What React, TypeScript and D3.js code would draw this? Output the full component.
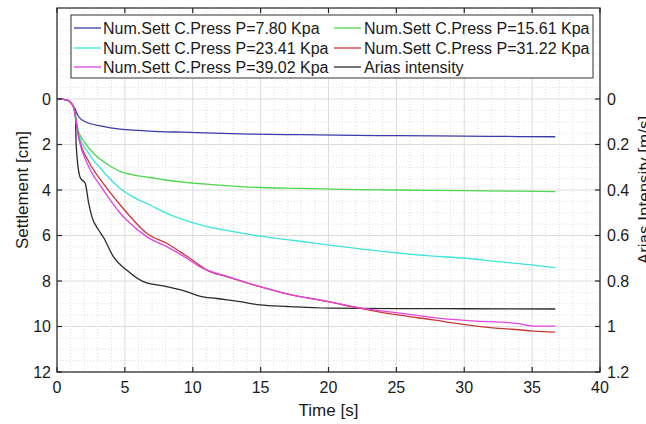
import React from "react";
import * as d3 from "d3";

const W = 646;
const H = 424;

const xTicks = [0, 5, 10, 15, 20, 25, 30, 35, 40];
const yTicks = [0, 2, 4, 6, 8, 10, 12];
const yRightTicks = [0, 0.2, 0.4, 0.6, 0.8, 1, 1.2];

const legendLabels = [
  "Num.Sett C.Press P=7.80 Kpa",
  "Num.Sett C.Press P=15.61 Kpa",
  "Num.Sett C.Press P=23.41 Kpa",
  "Num.Sett C.Press P=31.22 Kpa",
  "Num.Sett C.Press P=39.02 Kpa",
  "Arias intensity",
];
const colors = ["#3a3aaa", "#4cd64c", "#3fe3dc", "#c83838", "#e044e0", "#2a2a2a"];

// Settlement series [cm]
const t1 = [0, 0.5, 0.75, 0.96, 1.23, 1.6, 2.08, 3.3, 4.64, 6.0, 7.5, 9.3, 11.5, 14.2, 18, 22, 25.1, 30, 34, 36.7];
const s1 = [0, 0.02, 0.05, 0.12, 0.34, 0.78, 1.0, 1.19, 1.32, 1.38, 1.43, 1.46, 1.5, 1.54, 1.57, 1.6, 1.61, 1.63, 1.65, 1.66];

const t2 = [0, 0.5, 0.75, 0.96, 1.23, 1.47, 2.08, 2.82, 3.8, 4.66, 5.5, 6.85, 8, 9.3, 11, 14.2, 18, 22, 25.1, 30, 34, 36.7];
const s2 = [0, 0.02, 0.05, 0.12, 0.36, 1.22, 1.94, 2.46, 2.9, 3.19, 3.32, 3.45, 3.56, 3.65, 3.74, 3.87, 3.93, 3.98, 4.0, 4.03, 4.05, 4.07];

const t3 = [0, 0.5, 0.75, 0.96, 1.23, 1.6, 2.33, 3.31, 4.66, 5.6, 6.85, 8.3, 9.3, 11, 13, 14.95, 17.5, 20.1, 22.5, 25.1, 27.5, 30.1, 32.5, 35.1, 36.7];
const s3 = [0, 0.02, 0.05, 0.12, 0.36, 1.51, 2.39, 3.12, 3.93, 4.3, 4.66, 5.08, 5.3, 5.6, 5.83, 6.03, 6.22, 6.42, 6.6, 6.77, 6.9, 7.0, 7.15, 7.3, 7.41];

const t4 = [0, 0.5, 0.75, 0.96, 1.23, 1.6, 2.33, 3.31, 4.66, 5.62, 6.6, 8.08, 9.06, 10.3, 11.03, 12.5, 14.95, 16.7, 20.1, 22.3, 25.1, 27.7, 30.2, 31.9, 33.5, 35.1, 36.7];
const s4 = [0, 0.02, 0.05, 0.12, 0.38, 1.66, 2.75, 3.63, 4.66, 5.32, 5.9, 6.34, 6.71, 7.22, 7.52, 7.81, 8.25, 8.53, 8.92, 9.2, 9.49, 9.71, 9.93, 10.05, 10.12, 10.2, 10.25];

const t5 = [0, 0.5, 0.75, 0.96, 1.23, 1.6, 2.33, 3.31, 4.66, 5.13, 6.6, 8.08, 9.55, 10.5, 13, 14.95, 16.7, 20.1, 22.3, 25.1, 28.2, 30.6, 33.9, 35.1, 36.7];
const s5 = [0, 0.02, 0.05, 0.12, 0.38, 1.73, 2.97, 3.91, 5.02, 5.32, 6.05, 6.49, 7.0, 7.37, 7.88, 8.25, 8.53, 8.92, 9.18, 9.4, 9.64, 9.75, 9.86, 9.98, 9.98];

// Arias intensity [m/s] (right axis)
const tA = [0, 0.5, 0.75, 0.96, 1.23, 1.35, 1.4, 1.47, 1.72, 2.08, 2.33, 2.58, 3.07, 3.44, 4.15, 5.13, 6.36, 8.08, 9.55, 10.5, 11.76, 13.5, 14.95, 17, 20.1, 25, 30, 36.7];
const aA = [0, 0.002, 0.005, 0.012, 0.034, 0.048, 0.18, 0.25, 0.347, 0.37, 0.457, 0.519, 0.576, 0.61, 0.693, 0.752, 0.803, 0.825, 0.847, 0.866, 0.877, 0.891, 0.905, 0.912, 0.919, 0.921, 0.922, 0.923];

const FONT = "'Liberation Sans', Arial, Helvetica, sans-serif";

export default function App() {
  const left = 57, right = 600, top = 8, bottom = 372;
  const x = d3.scaleLinear().domain([0, 40]).range([left, right]);
  const y = d3.scaleLinear().domain([-4, 12]).range([top, bottom]);
  const yR = d3.scaleLinear().domain([-0.4, 1.2]).range([top, bottom]);

  const lineL = (ts: number[], vs: number[]) =>
    d3.line<number>().x((_, i) => x(ts[i])).y((v) => y(v)).curve(d3.curveMonotoneX)(vs) || "";
  const lineR = (ts: number[], vs: number[]) =>
    d3.line<number>().x((_, i) => x(ts[i])).y((v) => yR(v)).curve(d3.curveMonotoneX)(vs) || "";

  const series = [
    lineL(t1, s1),
    lineL(t2, s2),
    lineL(t3, s3),
    lineL(t4, s4),
    lineL(t5, s5),
  ];
  const arias = lineR(tA, aA);

  const xMinor = d3.range(0, 41, 1);
  const yMinor = d3.range(-4, 12.01, 0.5);

  const tickLen = 5;

  // legend layout
  const lg = { x0: 71, y0: 15, x1: 593, y1: 78 };
  const rows = [28, 48, 67];
  const cols = [{ lx: 74, tx: 103 }, { lx: 334, tx: 364 }];

  return (
    <svg width={W} height={H} style={{ position: "absolute", left: 0, top: 0, background: "#fff" }} fontFamily={FONT}>
      <rect x={0} y={0} width={W} height={H} fill="#fff" />
      {/* minor grid */}
      <g stroke="#d6d6d6" strokeWidth={0.8} strokeDasharray="1,2">
        {xMinor.filter((v) => v % 5 !== 0).map((v) => (
          <line key={"xm" + v} x1={x(v)} x2={x(v)} y1={top} y2={bottom} />
        ))}
        {yMinor.filter((v) => Math.abs(v % 2) > 1e-6 || v < 0).map((v) => (
          <line key={"ym" + v} x1={left} x2={right} y1={y(v)} y2={y(v)} />
        ))}
      </g>
      {/* major grid */}
      <g stroke="#dcdcdc" strokeWidth={1}>
        {xTicks.map((v) => (
          <line key={"xg" + v} x1={x(v)} x2={x(v)} y1={top} y2={bottom} />
        ))}
        {yTicks.map((v) => (
          <line key={"yg" + v} x1={left} x2={right} y1={y(v)} y2={y(v)} />
        ))}
      </g>

      {/* data */}
      <g fill="none" strokeWidth={1.3} strokeLinejoin="round">
        <path d={arias} stroke={colors[5]} />
        {series.map((d, i) => (
          <path key={i} d={d} stroke={colors[i]} />
        ))}
      </g>

      {/* box and ticks */}
      <g stroke="#262626" strokeWidth={1.2} fill="none">
        <rect x={left} y={top} width={right - left} height={bottom - top} />
        {xTicks.map((v) => (
          <g key={"xt" + v}>
            <line x1={x(v)} x2={x(v)} y1={bottom} y2={bottom - tickLen} />
            <line x1={x(v)} x2={x(v)} y1={top} y2={top + tickLen} />
          </g>
        ))}
        {yTicks.map((v) => (
          <line key={"yt" + v} x1={left} x2={left + tickLen} y1={y(v)} y2={y(v)} />
        ))}
        {yRightTicks.map((v) => (
          <line key={"yrt" + v} x1={right} x2={right - tickLen} y1={yR(v)} y2={yR(v)} />
        ))}
      </g>

      {/* tick labels */}
      <g fontSize={16} fill="#1a1a1a">
        {xTicks.map((v) => (
          <text key={"xl" + v} x={x(v)} y={bottom + 21} textAnchor="middle">{v}</text>
        ))}
        {yTicks.map((v) => (
          <text key={"yl" + v} x={left - 6} y={y(v) + 5.5} textAnchor="end">{v}</text>
        ))}
        {yRightTicks.map((v) => (
          <text key={"yrl" + v} x={right + 7} y={yR(v) + 5.5} textAnchor="start">{v}</text>
        ))}
      </g>

      {/* axis labels */}
      <g fontSize={17} fill="#1a1a1a">
        <text x={(left + right) / 2} y={416} textAnchor="middle">Time [s]</text>
        <text transform={`translate(28,${(top + bottom) / 2}) rotate(-90)`} textAnchor="middle">Settlement [cm]</text>
        <text transform={`translate(650,${(top + bottom) / 2}) rotate(-90)`} textAnchor="middle">Arias Intensity [m/s]</text>
      </g>

      {/* legend */}
      <g>
        <rect x={lg.x0} y={lg.y0} width={lg.x1 - lg.x0} height={lg.y1 - lg.y0} fill="#fff" stroke="#333" strokeWidth={1} />
        {legendLabels.map((lab, i) => {
          const r = Math.floor(i / 2);
          const c = cols[i % 2];
          const cy = rows[r];
          return (
            <g key={lab}>
              <line x1={c.lx} x2={c.lx + 27} y1={cy} y2={cy} stroke={colors[i]} strokeWidth={1.3} />
              <text x={c.tx} y={cy + 5.5} fontSize={16} fill="#1a1a1a">{lab}</text>
            </g>
          );
        })}
      </g>
    </svg>
  );
}
